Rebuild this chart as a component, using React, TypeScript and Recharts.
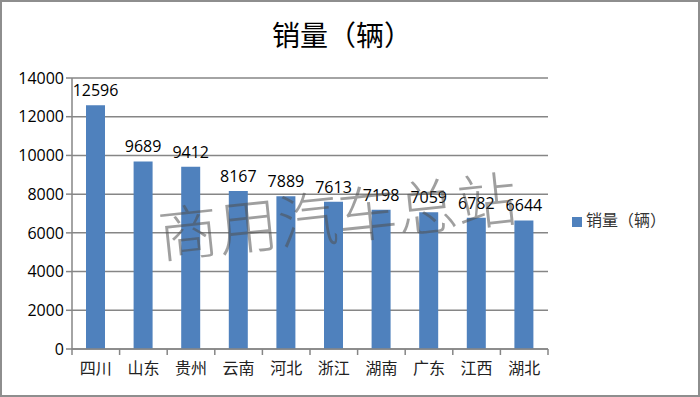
import { BarChart, Bar, XAxis, YAxis, CartesianGrid, Legend, LabelList } from "recharts";

const provinces = ["四川", "山东", "贵州", "云南", "河北", "浙江", "湖南", "广东", "江西", "湖北"];
const sales = [12596, 9689, 9412, 8167, 7889, 7613, 7198, 7059, 6782, 6644];
const yTicks = [0, 2000, 4000, 6000, 8000, 10000, 12000, 14000];

const data = provinces.map((name, i) => ({ name, value: sales[i] }));

const seriesName = "销量（辆）";
const halfBand = (548 - 72) / provinces.length / 2;

function CategoryTick(props: any) {
  const { x, y, payload, index } = props;
  const last = index === provinces.length - 1;
  return (
    <g>
      <line x1={x - halfBand} y1={y - 8} x2={x - halfBand} y2={y - 2} stroke="#868686" strokeWidth={1.5} />
      {last && (
        <line x1={x + halfBand} y1={y - 8} x2={x + halfBand} y2={y - 2} stroke="#868686" strokeWidth={1.5} />
      )}
      <text
        x={x}
        y={y + 17}
        textAnchor="middle"
        fill="#222"
        fontSize={16}
        fontFamily="'Noto Sans CJK SC'"
      >
        {payload.value}
      </text>
    </g>
  );
}

export default function App() {
  return (
    <div
      style={{
        position: "fixed",
        left: 0,
        top: 0,
        width: 700,
        height: 397,
        boxSizing: "border-box",
        border: "2px solid #8e8e8e",
        background: "#fff",
      }}
    >
      <div
        style={{
          position: "absolute",
          left: 0,
          top: 12,
          width: 680,
          textAlign: "center",
          fontSize: 28,
          fontFamily: "'Noto Sans CJK SC'",
          color: "#000",
        }}
      >
        {seriesName}
      </div>
      <div style={{ position: "absolute", left: -2, top: -2 }}>
        <BarChart
          width={700}
          height={397}
          data={data}
          barSize={19}
          margin={{ top: 78, right: 152, left: 12, bottom: 18 }}
        >
          <CartesianGrid vertical={false} stroke="#868686" strokeWidth={1.5} />
          <XAxis
            dataKey="name"
            height={30}
            axisLine={{ stroke: "#868686", strokeWidth: 1.5 }}
            tickLine={false}
            tick={<CategoryTick />}
            interval={0}
          />
          <YAxis
            width={60}
            domain={[0, 14000]}
            ticks={yTicks}
            interval={0}
            axisLine={{ stroke: "#868686", strokeWidth: 1.5 }}
            tickLine={{ stroke: "#868686", strokeWidth: 1.5 }}
            tickSize={6}
            tick={{ fill: "#000", fontSize: 16, fontFamily: "'Open Sans'" }}
          />
          <Legend
            layout="horizontal"
            align="center"
            verticalAlign="middle"
            iconType="square"
            iconSize={10}
            wrapperStyle={{
              left: 572,
              top: 207,
              width: "auto",
              fontFamily: "'Noto Sans CJK SC'",
              fontSize: 16,
            }}
            formatter={(v) => <span style={{ color: "#333" }}>{v}</span>}
          />
          <Bar dataKey="value" name={seriesName} fill="#4f81bd" isAnimationActive={false}>
            <LabelList
              dataKey="value"
              position="top"
              offset={9}
              fill="#000"
              fontSize={16}
              fontFamily="'Open Sans'"
            />
          </Bar>
        </BarChart>
      </div>
      <div
        style={{
          position: "absolute",
          left: 153,
          top: 200,
          fontSize: 60,
          lineHeight: 1,
          fontFamily: "'Noto Sans CJK SC'",
          fontWeight: 300,
          color: "rgba(80,80,80,0.55)",
          transform: "rotate(-6deg)",
          transformOrigin: "left top",
          pointerEvents: "none",
          whiteSpace: "nowrap",
        }}
      >
        商用汽车总站
      </div>
    </div>
  );
}
